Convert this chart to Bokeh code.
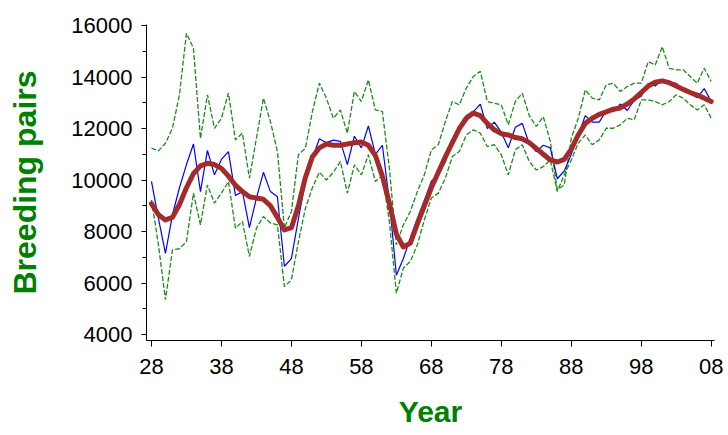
from bokeh.plotting import figure
from bokeh.models import FixedTicker, Range1d
from bokeh.embed import file_html
from bokeh.resources import INLINE

years = list(range(1928, 2009))

counts = [9950, 8500, 7150, 8650, 9700, 10600, 11400, 9550, 11150, 10200,
          10800, 11100, 9400, 9550, 8150, 9300, 10300, 9550, 9350, 6650,
          6950, 8500, 9950, 10850, 11600, 11450, 11550, 11500, 10600, 11700,
          11250, 12100, 11000, 11350, 9200, 6300, 6950, 7750, 8500, 9200,
          9950, 10200, 10700, 11550, 12000, 12500, 12650, 12950, 12000, 12250,
          11850, 11250, 12050, 12200, 11400, 11100, 11350, 11250, 10050, 10350,
          11000, 11750, 12500, 12250, 12250, 12700, 12650, 12950, 12700, 13100,
          13250, 13750, 13650, 13900, 13800, 13750, 13500, 13350, 13200, 13550,
          13050]

upper = [11240, 11130, 11430, 12010, 13310, 15700, 15120, 11620, 13310, 12010,
         12400, 13380, 11560, 11820, 10070, 11620, 13180, 12270, 11110, 8130,
         8780, 10980, 11240, 12660, 13760, 13180, 12400, 12720, 11820, 13440,
         13050, 13890, 12720, 12660, 10460, 7480, 8260, 8780, 9550, 10200,
         11170, 11370, 12270, 13050, 12920, 13570, 14020, 14220, 13050, 12980,
         12920, 12140, 13050, 13370, 12500, 12080, 12460, 11500, 9620, 9810,
         11620, 12400, 13500, 13180, 13110, 13700, 13760, 13440, 13630, 13760,
         13760, 14600, 14470, 15180, 14340, 14280, 14280, 14020, 13760, 14340,
         13830]

lower = [9230, 7480, 5350, 7290, 7330, 7610, 9490, 8260, 9810, 9100,
         9490, 9940, 8130, 8390, 7030, 8130, 8580, 8330, 8260, 5860,
         6120, 7600, 8900, 9700, 10300, 10000, 10300, 10720, 9490, 10590,
         10200, 10980, 9940, 10200, 8390, 5600, 6580, 6840, 7480, 8450,
         9300, 9490, 10070, 10910, 11110, 11750, 11950, 11820, 11300, 11370,
         10980, 10200, 11170, 11370, 10720, 10390, 10520, 10780, 9550, 10200,
         10780, 11430, 11750, 11370, 11560, 12010, 12010, 12140, 12400, 12340,
         13110, 13110, 13050, 12920, 13050, 13310, 13180, 12920, 12720, 12920,
         12400]

trend = [9080, 8650, 8450, 8550, 9050, 9700, 10250, 10550, 10650, 10600,
         10450, 10150, 9800, 9550, 9350, 9300, 9250, 9000, 8550, 8060,
         8150, 9000, 10100, 10900, 11250, 11400, 11350, 11350, 11400, 11450,
         11480, 11350, 10950, 10150, 9100, 7900, 7400, 7550, 8300, 9000,
         9700, 10300, 10900, 11450, 12000, 12400, 12600, 12500, 12200, 11950,
         11800, 11750, 11650, 11600, 11450, 11230, 11000, 10780, 10700, 10800,
         11200, 11750, 12200, 12400, 12550, 12650, 12750, 12800, 12950, 13150,
         13400, 13650, 13800, 13850, 13780, 13650, 13520, 13400, 13300, 13180,
         13050]

x_ticks = [1928, 1938, 1948, 1958, 1968, 1978, 1988, 1998, 2008]
x_tick_labels = ["28", "38", "48", "58", "68", "78", "88", "98", "08"]
y_ticks = [4000, 6000, 8000, 10000, 12000, 14000, 16000]
y_minor_ticks = [5000, 7000, 9000, 11000, 13000, 15000]

p = figure(width=728, height=435, output_backend="svg", toolbar_location=None,
           title=None,
           x_range=Range1d(1927.29, 2008.47), y_range=Range1d(3767, 16040),
           min_border_left=146, min_border_right=14, min_border_top=24,
           min_border_bottom=95)

p.line(years, upper, line_color="#1a8c1a", line_width=1.3, line_dash="5 2")
p.line(years, lower, line_color="#1a8c1a", line_width=1.3, line_dash="5 2")
p.line(years, counts, line_color="#0000ff", line_width=1.2)
p.line(years, trend, line_color="#a52a2a", line_width=5, line_join="round",
       line_cap="round")

p.xgrid.visible = False
p.ygrid.visible = False
p.outline_line_color = None
p.background_fill_color = "white"
p.border_fill_color = "white"

p.xaxis.ticker = FixedTicker(ticks=x_ticks)
p.xaxis.major_label_overrides = dict(zip(x_ticks, x_tick_labels))
p.yaxis.ticker = FixedTicker(ticks=y_ticks, minor_ticks=y_minor_ticks)

for ax in (p.xaxis[0], p.yaxis[0]):
    ax.axis_line_color = "black"
    ax.axis_line_width = 1
    ax.major_tick_line_color = "black"
    ax.minor_tick_line_color = "black"
    ax.major_tick_in = 0
    ax.minor_tick_in = 0
    ax.major_label_text_font = "Liberation Sans"
    ax.major_label_text_font_size = "22px"
    ax.major_label_text_color = "black"
    ax.axis_label_text_font = "Liberation Sans"
    ax.axis_label_text_font_style = "bold"
    ax.axis_label_text_color = "#008000"

p.xaxis.major_tick_out = 6
p.xaxis.minor_tick_out = 0
p.xaxis.major_label_standoff = 12
p.xaxis.axis_label = "Year"
p.xaxis.axis_label_text_font_size = "30px"
p.xaxis.axis_label_standoff = 18

p.yaxis.major_tick_out = 5
p.yaxis.minor_tick_out = 4
p.yaxis.major_label_standoff = 9
p.yaxis.axis_label = "Breeding pairs"
p.yaxis.axis_label_text_font_size = "32px"
p.yaxis.axis_label_standoff = 25

open("out.html", "w").write(file_html(p, INLINE))
